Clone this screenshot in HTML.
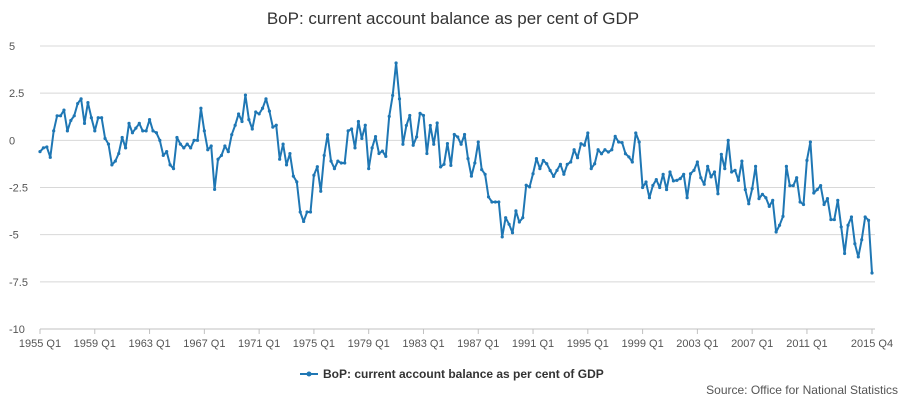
<!DOCTYPE html>
<html><head><meta charset="utf-8"><style>
body{margin:0;background:#fff;font-family:"Liberation Sans",sans-serif;}
svg{display:block}
</style></head><body>
<svg id="chart" width="907" height="403">
<text x="453" y="24" text-anchor="middle" font-size="17" fill="#333">BoP: current account balance as per cent of GDP</text>
<g id="grid"></g><g id="xax"></g><g id="series"></g>
<g>
<line x1="300" y1="374" x2="318" y2="374" stroke="#1f77b4" stroke-width="2"/>
<circle cx="309" cy="374" r="2.5" fill="#1f77b4"/>
<text x="323" y="378" font-size="12" font-weight="bold" fill="#333">BoP: current account balance as per cent of GDP</text>
</g>
<text x="898" y="394" text-anchor="end" font-size="12" fill="#555">Source: Office for National Statistics</text>
</svg>
<script>
const values=[-0.6,-0.4,-0.35,-0.9,0.5,1.3,1.3,1.6,0.5,1.05,1.3,1.95,2.2,0.9,2.0,1.2,0.5,1.2,1.2,0.1,-0.2,-1.3,-1.1,-0.7,0.15,-0.4,0.9,0.4,0.65,0.9,0.5,0.5,1.1,0.5,0.4,0.0,-0.8,-0.6,-1.3,-1.5,0.15,-0.2,-0.4,-0.2,-0.4,0.0,0.0,1.7,0.5,
-0.5,-0.3,-2.6,-1.0,-0.8,-0.3,-0.6,0.3,0.8,1.4,1.0,2.4,1.1,0.6,1.5,1.4,1.7,2.2,1.55,0.7,0.8,-1.0,-0.2,-1.3,-0.7,-1.9,-2.2,-3.8,-4.3,-3.8,-3.8,-1.85,-1.4,-2.7,-0.8,0.3,-1.1,-1.5,-1.1,-1.2,-1.2,0.5,0.6,-0.4,1.0,0.1,0.8,-1.5,-0.4,0.2,-0.7,
-0.57,-0.85,1.27,2.38,4.1,2.2,-0.21,0.79,1.32,-0.26,0.18,1.43,1.32,-0.7,0.79,-0.21,0.92,-1.41,-1.27,-0.17,-1.33,0.31,0.18,-0.21,0.31,-0.97,-1.9,-1.2,-0.09,-1.55,-1.8,-3.0,-3.27,-3.27,-3.27,-5.12,-4.1,-4.45,-4.9,-3.74,-4.33,-4.1,-2.38,-2.47,-1.77,-0.97,-1.5,-1.07,-1.24,-1.6,
-1.91,-1.59,-1.27,-1.8,-1.27,-1.15,-0.5,-0.92,-0.18,-0.26,0.39,-1.5,-1.24,-0.5,-0.71,-0.5,-0.62,-0.5,0.21,-0.09,-0.12,-0.71,-0.88,-1.15,0.39,-0.09,-2.5,-2.21,-3.04,-2.39,-2.08,-2.5,-1.8,-2.61,-1.68,-2.15,-2.12,-2.03,-1.8,-3.04,-1.77,-1.59,-1.15,-1.98,-2.33,-1.38,-1.94,-1.68,-2.83,
-0.74,-1.5,0.0,-1.68,-1.59,-2.12,-1.1,-2.61,-3.36,-2.56,-1.38,-3.09,-2.86,-3.04,-3.5,-3.18,-4.86,-4.5,-4.03,-1.38,-2.4,-2.4,-1.98,-3.27,-3.4,-1.06,-0.09,-2.79,-2.61,-2.4,-3.4,-3.09,-4.2,-4.2,-3.18,-4.59,-6.0,-4.5,-4.06,-5.48,-6.18,-5.27,-4.06,-4.24,-7.03];
const yTicks=[5,2.5,0,-2.5,-5,-7.5,-10];
const xTickIdx=[0,16,32,48,64,80,96,112,128,144,160,176,192,208,224,243];
const xTickLabels=["1955 Q1","1959 Q1","1963 Q1","1967 Q1","1971 Q1","1975 Q1","1979 Q1","1983 Q1","1987 Q1","1991 Q1","1995 Q1","1999 Q1","2003 Q1","2007 Q1","2011 Q1","2015 Q4"];
const NS="http://www.w3.org/2000/svg";
const X0=40,X1=872,Y0=46,Y1=329,N=244;
const xs=i=>X0+(X1-X0)*i/(N-1);
const ys=v=>Y0+(5-v)/15*(Y1-Y0);
function mk(tag,attrs,parent){const e=document.createElementNS(NS,tag);for(const k in attrs)e.setAttribute(k,attrs[k]);parent.appendChild(e);return e;}
const grid=document.getElementById('grid');
yTicks.forEach(t=>{
 const l=mk('line',{x1:X0,x2:875,y1:ys(t),y2:ys(t),stroke:t===-10?'#c0c0c0':'#d8d8d8','stroke-width':1},grid);
 
 
 const tx=mk('text',{x:9,y:ys(t)+4,'font-size':11,fill:'#555'},grid);
 tx.textContent=String(t);
 
 
});
const xax=document.getElementById('xax');
xTickIdx.forEach((q,k)=>{
 const x=xs(q);
 const tk=mk('line',{x1:x,x2:x,y1:Y1,y2:Y1+5,stroke:'#c0c0c0'},xax);
 
 
 const tx=mk('text',{x:x,y:Y1+18,'font-size':11,fill:'#555','text-anchor':'middle'},xax);
 tx.textContent=xTickLabels[k];
 
 
});
const s=document.getElementById('series');
const pts=values.map((v,i)=>xs(i).toFixed(1)+','+ys(v).toFixed(1)).join(' ');
const pl=mk('polyline',{points:pts,fill:'none',stroke:'#1f77b4','stroke-width':2,'stroke-linejoin':'round'},s);


values.forEach((v,i)=>{
 const c=mk('circle',{cx:xs(i),cy:ys(v),r:1.6,fill:'#1f77b4'},s);
 
 
});
</script>
</body></html>
